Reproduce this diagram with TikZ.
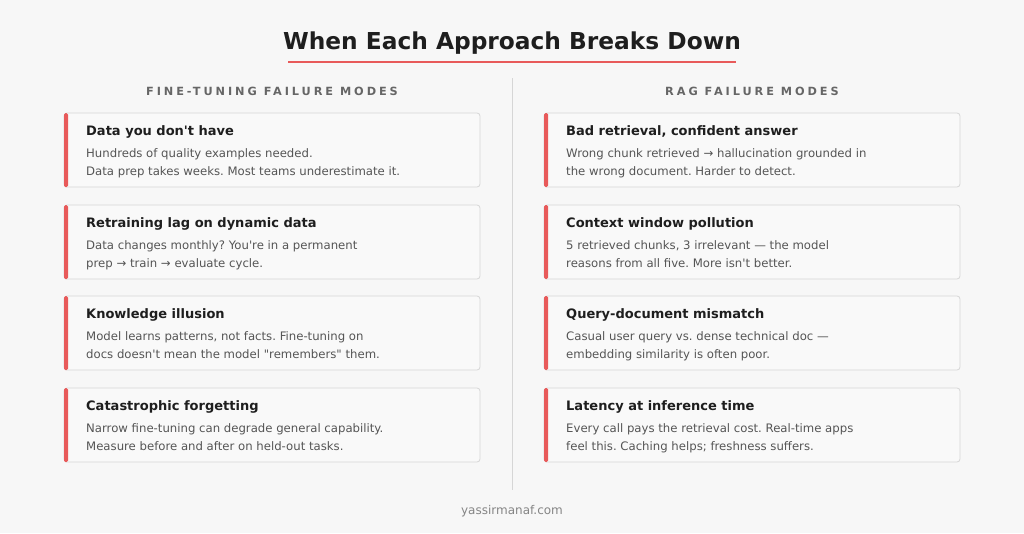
\documentclass[tikz,border=0pt]{standalone}
\usepackage{fontspec}
\setmainfont{DejaVu Sans}
\newfontfamily\spacedfont[LetterSpace=26]{DejaVu Sans}
\definecolor{bg}{HTML}{F7F7F7}
\definecolor{cardbg}{HTML}{F9F9F9}
\definecolor{cardline}{HTML}{D6D6D6}
\definecolor{accent}{HTML}{E85A5A}
\definecolor{titlec}{HTML}{1E1E1E}
\definecolor{bodyc}{HTML}{555555}
\definecolor{headc}{HTML}{666666}
\frenchspacing
\begin{document}
\begin{tikzpicture}[x=1pt,y=-1pt,
  card/.style={draw=cardline,fill=cardbg,rounded corners=3pt,line width=0.8pt},
  bar/.style={fill=accent,rounded corners=1.5pt},
  ctitle/.style={anchor=west,inner sep=0,text=titlec,font=\fontsize{13}{15}\selectfont\bfseries},
  cbody/.style={anchor=north west,inner sep=0,text=bodyc,align=left,font=\fontsize{11.7}{18}\selectfont},
  head/.style={inner sep=0,text=headc,font=\fontsize{11.3}{13}\spacedfont\bfseries}]
\fill[bg] (0,0) rectangle (1024,533);
\useasboundingbox (0,0) rectangle (1024,533);
\node[inner sep=0,text=titlec,font=\fontsize{23.3}{27}\selectfont\bfseries] (title) at (512,43) {When Each Approach Breaks Down};
\draw[accent,line width=1.5pt] (288,62) -- (736,62);
\node[head] (hl) at (272,91) {FINE-TUNING FAILURE MODES};
\node[head] (hr) at (752,91) {RAG FAILURE MODES};
\draw[cardline,line width=1pt] (512,78) -- (512,490);
\newcommand\mycard[5]{%
  \draw[card] (#1,#2) rectangle ++(416,74);
  \fill[bar] (#1,#2) rectangle ++(4,74);
  \node[ctitle] (#3t) at (#1+22,#2+18.5) {#4};
  \node[cbody] (#3b) at (#1+22,#2+35) {#5};}
\mycard{64}{113}{l1}{Data you don\textquotesingle t have}{Hundreds of quality examples needed.\\Data prep takes weeks. Most teams underestimate it.}
\mycard{64}{205}{l2}{Retraining lag on dynamic data}{Data changes monthly? You\textquotesingle re in a permanent\\prep → train → evaluate cycle.}
\mycard{64}{296}{l3}{Knowledge illusion}{Model learns patterns, not facts. Fine-tuning on\\docs doesn\textquotesingle t mean the model \textquotedbl remembers\textquotedbl{} them.}
\mycard{64}{388}{l4}{Catastrophic forgetting}{Narrow fine-tuning can degrade general capability.\\Measure before and after on held-out tasks.}
\mycard{544}{113}{r1}{Bad retrieval, confident answer}{Wrong chunk retrieved → hallucination grounded in\\the wrong document. Harder to detect.}
\mycard{544}{205}{r2}{Context window pollution}{5 retrieved chunks, 3 irrelevant — the model\\reasons from all five. More isn\textquotesingle t better.}
\mycard{544}{296}{r3}{Query-document mismatch}{Casual user query vs. dense technical doc —\\embedding similarity is often poor.}
\mycard{544}{388}{r4}{Latency at inference time}{Every call pays the retrieval cost. Real-time apps\\feel this. Caching helps; freshness suffers.}
\node[inner sep=0,text=headc!80,font=\fontsize{12}{14}\selectfont] (foot) at (512,511) {yassirmanaf.com};
\end{tikzpicture}
\end{document}
